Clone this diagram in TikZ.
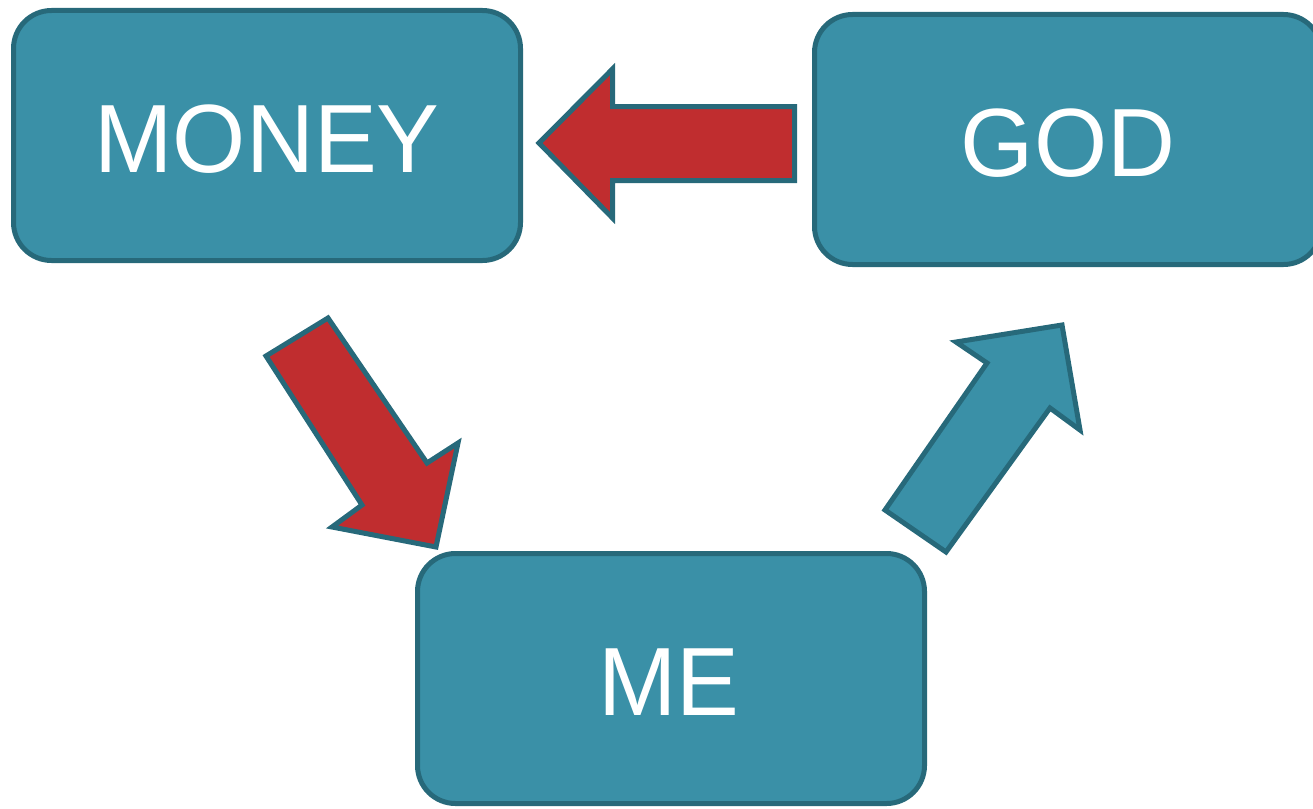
\documentclass[tikz,border=0pt]{standalone}
\usepackage{fontspec}
\setmainfont{Liberation Sans}
\definecolor{boxfill}{HTML}{3A90A7}
\definecolor{boxline}{HTML}{27697A}
\definecolor{arrowred}{HTML}{C02D2F}
\begin{document}
\begin{tikzpicture}[x=1pt,y=-1pt,
  blockbox/.style={draw=boxline, fill=boxfill, line width=5pt, rounded corners=38pt,
    minimum width=507pt, minimum height=250pt, inner sep=0pt},
  label/.style={text=white, font=\fontsize{97}{100}\selectfont, xscale=0.97,
    text height=69pt, text depth=0pt, inner sep=0pt},
  redarrow/.style={draw=boxline, fill=arrowred, line width=5pt, miter limit=10},
  tealarrow/.style={draw=boxline, fill=boxfill, line width=5pt, miter limit=10}]
\useasboundingbox (0,0) rectangle (1313,808);
\begin{scope}
\clip (0,0) rectangle (1313,808);
\node[blockbox] (money) at (267,135.5) {};
\node[blockbox] (god) at (1068,139.5) {};
\node[blockbox] (me) at (671,678.5) {};
\node[label] (moneyt) at (267,138) {MONEY};
\node[label] (godt) at (1068,142) {GOD};
\node[label] (met) at (669,681) {ME};
% red arrow GOD -> MONEY
\draw[redarrow] (539,143) -- (612.5,69) -- (612.5,106.5) -- (794.5,106.5) -- (794.5,180.5) -- (612.5,180.5) -- (612.5,218) -- cycle;
% red arrow MONEY -> ME
\draw[redarrow] (266,356) -- (328,318) -- (427,463) -- (458,443) -- (436,547) -- (332,527) -- (362,505) -- cycle;
% teal arrow ME -> GOD
\draw[tealarrow] (885,510) -- (946,552) -- (1050,408) -- (1080,430) -- (1062,325) -- (956,342) -- (987,363) -- cycle;
\end{scope}
\end{tikzpicture}
\end{document}
